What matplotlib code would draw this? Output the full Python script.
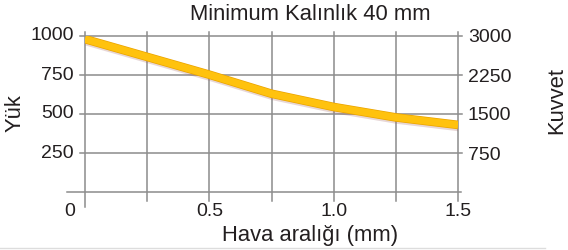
import numpy as np
import matplotlib
matplotlib.use("Agg")
from matplotlib import pyplot as plt
import matplotlib.patheffects as pe

plt.rcParams["font.family"] = ["Liberation Sans", "DejaVu Sans"]

# data
gap_mm = [0.0, 0.25, 0.5, 0.75, 1.0, 1.25, 1.5]
load = [980, 866, 752, 630, 545, 478, 430]

x_grid = [0, 0.25, 0.5, 0.75, 1.0, 1.25, 1.5]
y_grid = [250, 500, 750, 1000]
x_labels = {0.5: "0.5", 1.0: "1.0", 1.5: "1.5"}
force_ticks = [750, 1500, 2250, 3000]

title = "Minimum Kalınlık 40 mm"
xlabel = "Hava aralığı (mm)"
ylabel_left = "Yük"
ylabel_right = "Kuvvet"

W, H = 568, 250
fig = plt.figure(figsize=(W / 100, H / 100), dpi=100)
x0, x1, y0, y1 = 85, 458, 192, 36
ax = fig.add_axes([x0 / W, 1 - y0 / H, (x1 - x0) / W, (y0 - y1) / H])
ax.set_xlim(0, 1.5)
ax.set_ylim(0, 1000)
for s in ax.spines.values():
    s.set_visible(False)
ax.set_xticks([])
ax.set_yticks([])

gcol = "#8c8c8c"
gw = 1.1
pw, ph = x1 - x0, y0 - y1
for xv in x_grid:
    lo = -15 / ph if xv == 0 else -9 / ph
    ax.axvline(xv, ymin=lo, ymax=1 + 4 / ph, color=gcol, lw=gw, clip_on=False, zorder=1)
for yv in y_grid:
    ax.axhline(yv, xmin=-5 / pw, xmax=1 + 4 / pw, color=gcol, lw=gw, clip_on=False, zorder=1)
ax.axhline(0, xmin=-18 / pw, xmax=1 + 3 / pw, color=gcol, lw=gw, clip_on=False, zorder=1)

tcol = "#231f20"
fs = 14
fl = 15.8
for yv in y_grid:
    ax.annotate(str(yv), (0, yv), xytext=(-8, 0), textcoords="offset points",
                ha="right", va="center", fontsize=fs, color=tcol, annotation_clip=False)
for xv, lab in x_labels.items():
    ax.annotate(lab, (xv, 0), xytext=(0, -8), textcoords="offset points",
                ha="center", va="top", fontsize=fs, color=tcol, annotation_clip=False)
ax.annotate("0", (0, 0), xytext=(-11, -8), textcoords="offset points",
            ha="center", va="top", fontsize=fs, color=tcol, annotation_clip=False)

ax2 = ax.twinx()
ax2.set_ylim(0, 3000)
for s in ax2.spines.values():
    s.set_visible(False)
ax2.set_yticks(force_ticks)
ax2.set_yticklabels([str(v) for v in force_ticks], fontsize=fs, color=tcol)
ax2.tick_params(axis="y", length=0, pad=7)

ax.plot(gap_mm, load, color="#ffc20e", lw=5.2, solid_capstyle="butt",
        solid_joinstyle="round", zorder=5,
        path_effects=[pe.SimpleLineShadow(offset=(0.8, -2), shadow_color="#a06060", alpha=0.25),
                      pe.Stroke(linewidth=6.2, foreground="#eaa300"),
                      pe.Normal()])

fig.text(310 / W, 1 - 15 / H, title, ha="center", va="center", fontsize=fl, color=tcol)
fig.text(310 / W, 1 - 235 / H, xlabel, ha="center", va="center", fontsize=fl, color=tcol)
fig.text(15 / W, 1 - 113 / H, ylabel_left, ha="center", va="center", rotation=90, fontsize=fl, color=tcol)
fig.text(557 / W, 1 - 100 / H, ylabel_right, ha="center", va="center", rotation=90, fontsize=fl, color=tcol)

fig.add_artist(plt.Line2D([0, 545 / W], [1 - 248 / H] * 2, color="#dddddd", lw=1))

fig.savefig("out.png", dpi=100)
